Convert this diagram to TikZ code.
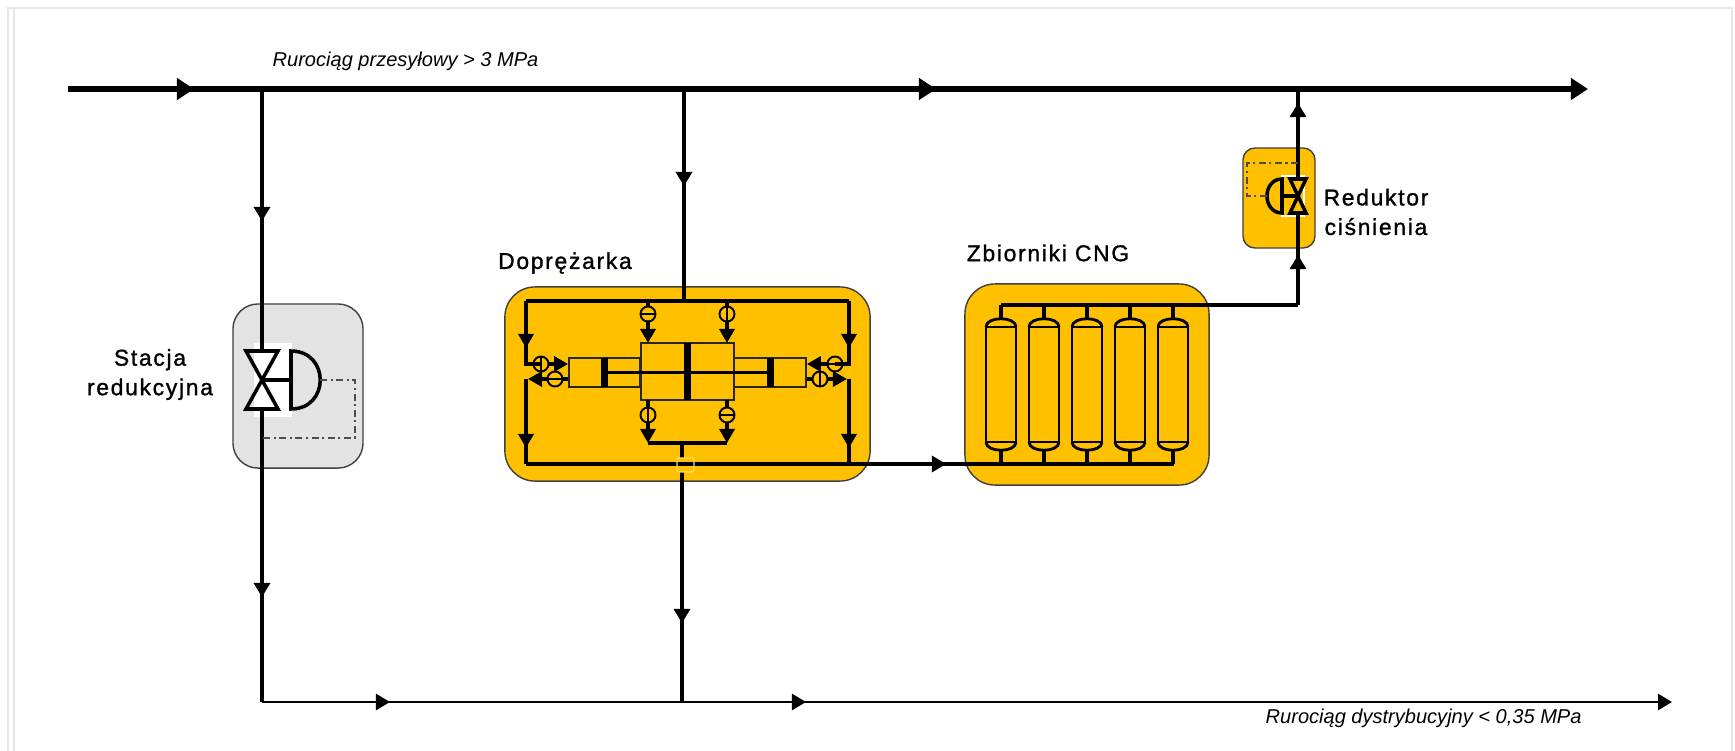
\documentclass[tikz,border=0pt]{standalone}
\usepackage{fontspec}
\setmainfont{Liberation Sans}
\newfontfamily\boxfont[LetterSpace=7.5,FakeBold=1.2]{Liberation Sans}
\usetikzlibrary{arrows.meta}
\definecolor{amber}{HTML}{FFC000}
\definecolor{stationgray}{HTML}{E3E3E3}
\definecolor{framegray}{HTML}{E6E6E6}
\tikzset{
	mainpipe/.style={line width=1.9pt},
	pipe/.style={line width=0.9pt},
	distpipe/.style={line width=0.75pt},
	inpipe/.style={line width=0.95pt},
	tipmain/.style={-{Triangle[length=0.17cm,width=0.21cm]}},
	tipflow/.style={-{Triangle[length=0.14cm,width=0.16cm]}},
	tipin/.style={-{Triangle[length=0.14cm,width=0.15cm]}},
	unit/.style={draw=black!75,line width=0.4pt,rounded corners=#1,inner sep=0pt},
	cyl/.style={draw=black!85,line width=0.5pt,inner sep=0pt},
	piston/.style={fill=black,inner sep=0pt,minimum width=0.07cm},
	cvalve/.style={circle,draw,line width=0.55pt,inner sep=0pt,minimum size=0.15cm},
	bar/.style={line width=0.55pt},
	valve/.style={line width=1pt,line join=miter},
	signal/.style={draw=black!70,line width=0.55pt,dash pattern=on 2pt off 1pt on 0.6pt off 1pt},
	tank/.style={draw,line width=0.8pt,inner sep=0pt,minimum width=0.3cm,minimum height=1.15cm},
	lab/.style={inner sep=0pt,align=center,font=\boxfont\fontsize{6.5pt}{8.4pt}\selectfont},
	pipelab/.style={inner sep=0pt,font=\itshape\fontsize{5.7pt}{7pt}\selectfont}
}
\begin{document}
\begin{tikzpicture}[x=0.01cm,y=-0.01cm]
	\useasboundingbox (0,0) rectangle (1735,751);
	%page frame
	\draw[framegray,line width=0.5pt] (8,751)--(8,8)--(1732,8)--(1732,751);
	\draw[framegray,line width=0.5pt] (14,751)--(14,8);

	%units
	\node[unit=0.25cm,fill=stationgray,minimum width=1.3cm,minimum height=1.64cm] (station) at (298,386) {};
	\node[unit=0.3cm,fill=amber,minimum width=3.65cm,minimum height=1.94cm] (comp) at (687.5,384) {};
	\node[unit=0.3cm,fill=amber,minimum width=2.44cm,minimum height=2.01cm] (store) at (1087,384.5) {};
	\node[unit=0.12cm,fill=amber,minimum width=0.72cm,minimum height=1cm] (reducer) at (1279,198) {};
	\draw[white,line width=0.4pt] (1282,176) rectangle (1304,216);

	%junctions
	\coordinate (mainIn) at (68,89);
	\coordinate (mainA) at (194,89);
	\coordinate (jStation) at (262,89);
	\coordinate (jComp) at (684,89);
	\coordinate (mainB) at (936,89);
	\coordinate (jReturn) at (1298,89);
	\coordinate (mainOut) at (1588,89);
	\coordinate (distCorner) at (262,702);
	\coordinate (distA) at (390,702);
	\coordinate (jDist) at (682,702);
	\coordinate (distB) at (806,702);
	\coordinate (distOut) at (1672,702);

	%main lines
	\draw[mainpipe] (mainIn)--(mainB);
	\draw[mainpipe,tipmain] (mainIn)--(mainA);
	\draw[mainpipe,tipmain] (mainA)--(mainB);
	\draw[mainpipe,tipmain] (mainB)--(mainOut);
	\draw[pipe] (jStation)--(distCorner);
	\draw[distpipe] (distCorner)--(distB);
	\draw[distpipe,tipflow] (distCorner)--(distA);
	\draw[distpipe,tipflow] (distA)--(distB);
	\draw[distpipe,tipflow] (distB)--(distOut);

	%station branch
	\coordinate (stA) at (262,221);
	\coordinate (stValve) at (262,380);
	\coordinate (stB) at (262,597);
	\draw[pipe,tipflow] (jStation)--(stA);
	\draw[pipe,tipflow] (stValve)--(stB);
	\fill[white] (254,343) rectangle (292,417);		%patch behind valve
	\draw[pipe] (262,330)--(262,351);
	\draw[pipe] (262,409)--(262,425);
	\draw[valve] (246,351)--(278,351)--(246,409)--(278,409)--cycle;
	\draw[valve] (stValve)--(291,380);
	\draw[valve] (291,351) .. controls (330,351) and (330,409) .. (291,409) -- cycle;
	\draw[signal] (320,380)--(355,380)--(355,438)--(262,438);

	%compressor feed
	\coordinate (compIn) at (684,186);
	\coordinate (manTop) at (684,301);
	\coordinate (manTL) at (526,301);
	\coordinate (manTR) at (849,301);
	\coordinate (manBL) at (526,464);
	\coordinate (manBR) at (849,464);
	\draw[pipe] (jComp)--(manTop);
	\draw[pipe,tipflow] (jComp)--(compIn);
	\draw[inpipe] (manTL)--(manTR);

	%cylinders
	\node[cyl,minimum width=0.71cm,minimum height=0.29cm] (cylL) at (604.5,372.5) {};
	\node[cyl,minimum width=0.72cm,minimum height=0.29cm] (cylR) at (770,372.5) {};
	\node[cyl,fill=amber,minimum width=0.93cm,minimum height=0.57cm] (cylC) at (687.5,371.5) {};
	\draw[inpipe,line width=1.1pt] (cylL.center)--(cylR.center);
	\node[piston,minimum height=0.29cm] (pistL) at (cylL) {};
	\node[piston,minimum height=0.29cm] (pistR) at (cylR) {};
	\node[piston,minimum height=0.57cm] (pistC) at (cylC) {};

	%side valves
	\coordinate (tipLa) at (526,348);
	\coordinate (tipRa) at (849,348);
	\coordinate (tipLd) at (526,448);
	\coordinate (tipRd) at (849,448);
	\draw[inpipe] (manTL)--(526,364)--(541,364);
	\draw[inpipe] (manTR)--(849,364)--(835,364);
	\draw[inpipe] (526,379)--(manBL);
	\draw[inpipe] (849,379)--(manBR);
	\node[cvalve] (vLa) at (541,364) {};
	\node[cvalve] (vLb) at (555,379) {};
	\node[cvalve] (vRa) at (835,364) {};
	\node[cvalve] (vRb) at (820,379) {};
	\draw[bar] (vLa.north)--(vLa.south);
	\draw[bar] (vLb.west)--(vLb.east);
	\draw[bar] (vRa.west)--(vRa.east);
	\draw[bar] (vRb.north)--(vRb.south);
	\draw[inpipe,tipin] (manTL)--(tipLa);
	\draw[inpipe,tipin] (vLa)--(cylL.west |- vLa);
	\draw[inpipe] (cylL.west |- vLb)--(vLb);
	\draw[inpipe,tipin] (vLb)--(528,379);
	\draw[inpipe,tipin] (526,379)--(tipLd);
	\draw[inpipe,tipin] (manTR)--(tipRa);
	\draw[inpipe,tipin] (vRa)--(cylR.east |- vRa);
	\draw[inpipe] (cylR.east |- vRb)--(vRb);
	\draw[inpipe,tipin] (vRb)--(847,379);
	\draw[inpipe,tipin] (849,379)--(tipRd);

	%top and bottom valves
	\node[cvalve] (vTa) at (648,314) {};
	\node[cvalve] (vTb) at (727,314) {};
	\node[cvalve] (vBa) at (648,415) {};
	\node[cvalve] (vBb) at (727,415) {};
	\draw[bar] (vTa.west)--(vTa.east);
	\draw[bar] (vTb.north)--(vTb.south);
	\draw[bar] (vBa.north)--(vBa.south);
	\draw[bar] (vBb.west)--(vBb.east);
	\coordinate (manOutL) at (648,443);
	\coordinate (manOutR) at (727,443);
	\draw[inpipe] (648,301)--(vTa);
	\draw[inpipe] (727,301)--(vTb);
	\draw[inpipe,tipin] (vTa)--(648,343);
	\draw[inpipe,tipin] (vTb)--(727,343);
	\draw[inpipe] (648,400)--(vBa);
	\draw[inpipe] (727,400)--(vBb);
	\draw[inpipe,tipin] (vBa)--(manOutL);
	\draw[inpipe,tipin] (vBb)--(manOutR);
	\draw[inpipe] (manOutL)--(manOutR);

	%outlet to distribution
	\coordinate (compOut) at (682,623);
	\draw[inpipe] (682,443)--(682,458);
	\draw[pipe] (682,472)--(jDist);
	\draw[pipe,tipflow] (682,472)--(compOut);

	%line to storage
	\coordinate (storeIn) at (946,464);
	\coordinate (storeEnd) at (1174,464);
	\draw[inpipe] (manBL)--(storeEnd);
	\draw[pipe,tipflow] (manBR)--(storeIn);
	\draw[amber!60!white,line width=0.4pt,rounded corners=0.02cm] (677,458) rectangle (694,472);

	%tanks
	\coordinate (storeTop) at (1001,305);
	\coordinate (storeExit) at (1298,305);
	\draw[pipe] (storeTop)--(storeExit);
	\foreach \i/\x in {1/1001,2/1044,3/1087,4/1130,5/1173}{
		\node[tank] (tank\i) at (\x,384.5) {};
		\draw[line width=0.8pt] (\x-15,327) .. controls (\x-15,316) and (\x+15,316) .. (\x+15,327);
		\draw[line width=0.8pt] (\x-15,442) .. controls (\x-15,453) and (\x+15,453) .. (\x+15,442);
		\draw[pipe] (\x,305)--(\x,320);
		\draw[pipe] (\x,449)--(\x,464);
	}

	%pressure reducer
	\coordinate (redB) at (1298,255);
	\coordinate (redA) at (1298,103);
	\coordinate (redValve) at (1298,196);
	\draw[pipe] (storeExit)--(1298,213);
	\draw[pipe] (1298,179)--(jReturn);
	\draw[pipe,tipflow] (storeExit)--(redB);
	\draw[pipe,tipflow] (1298,179)--(redA);
	\draw[valve] (1290,179)--(1306,179)--(1290,213)--(1306,213)--cycle;
	\draw[valve] (redValve)--(1282,196);
	\draw[valve] (1282,179) .. controls (1262,179) and (1262,213) .. (1282,213) -- cycle;
	\draw[signal] (1267,196)--(1247,196)--(1247,163)--(1298,163);

	%labels
	\node[pipelab,anchor=west] (lblHigh) at (272,61) {Rurociąg przesyłowy > 3 MPa};
	\node[pipelab,anchor=west] (lblLow) at (1265,718) {Rurociąg dystrybucyjny < 0,35 MPa};
	\node[lab] (lblStation) at (150,374.5) {Stacja\\redukcyjna};
	\node[lab] (lblComp) at (565,263) {Doprężarka};
	\node[lab] (lblStore) at (1048,253) {Zbiorniki CNG};
	\node[lab] (lblReducer) at (1376,212) {Reduktor\\ciśnienia};
\end{tikzpicture}
\end{document}
